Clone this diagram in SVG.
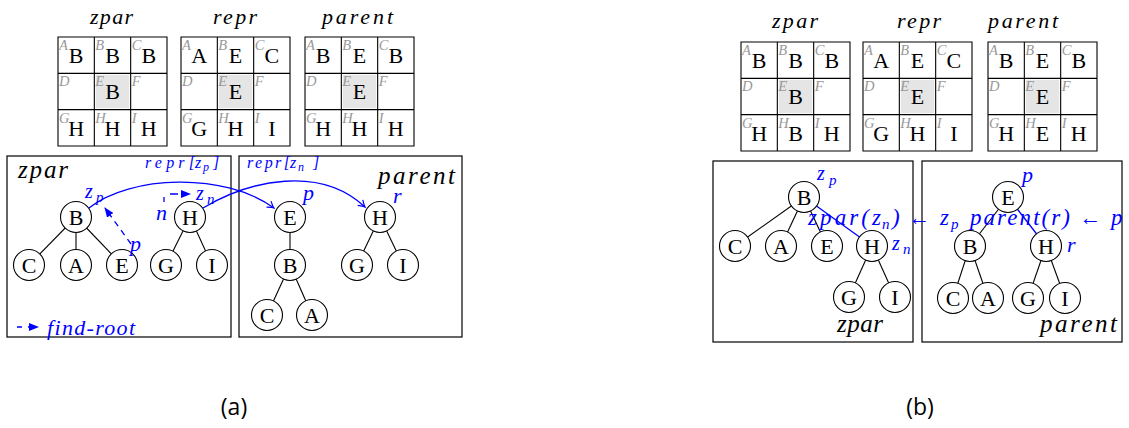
<svg xmlns="http://www.w3.org/2000/svg" xmlns:xlink="http://www.w3.org/1999/xlink" width="1129" height="428" viewBox="0 0 1129 428">
<style>
.bg{fill:#fff}
.gl{stroke:#000;stroke-width:1.1;fill:none}
.sh{fill:#e5e5e5}
.lbl{font-family:"Liberation Serif","DejaVu Serif",serif;font-style:italic;font-size:14.5px;fill:#999}
.big{font-family:"Liberation Serif","DejaVu Serif",serif;font-size:22px;text-anchor:middle;fill:#000}
.mi{font-family:"Liberation Serif","DejaVu Serif",serif;font-style:italic;fill:#000}
.bl{fill:#0000ff}
.box{fill:none;stroke:#000;stroke-width:1.2}
.nd circle{fill:#fff;stroke:#000;stroke-width:1.1}
.nd text{font-family:"Liberation Serif","DejaVu Serif",serif;font-size:22px;text-anchor:middle}
.e{stroke:#000;stroke-width:1.1}
.eb{stroke:#0000ff;stroke-width:1.3}
.arc{stroke:#0000ff;stroke-width:1.3;fill:none;marker-end:url(#to)}
.da{stroke:#0000ff;stroke-width:1.3;fill:none;stroke-dasharray:6 5;marker-end:url(#tri)}
.cap{font-family:"Open Sans","Noto Sans",sans-serif;font-size:23px;text-anchor:middle;fill:#000}
</style>
<defs>
<marker id="to" markerUnits="userSpaceOnUse" viewBox="-8 -5 9 10" markerWidth="9" markerHeight="10" refX="0" refY="0" orient="auto">
<path d="M-6.5,-3.8 Q-2,-0.6 0,0 Q-2,0.6 -6.5,3.8" fill="none" stroke="#0000ff" stroke-width="1.2"/>
</marker>
<marker id="tri" markerUnits="userSpaceOnUse" viewBox="0 0 10 8" markerWidth="10" markerHeight="8" refX="9" refY="4" orient="auto">
<path d="M0,0 L10,4 L0,8 z" fill="#0000ff"/>
</marker>
<g id="frame">
<rect class="sh" x="37.8" y="37.8" width="33.4" height="33.4"/>
<path class="gl" d="M0,0 H109 V109 H0 Z M36.33,0 V109 M72.67,0 V109 M0,36.33 H109 M0,72.67 H109"/>
<text class="lbl" x="1" y="13">A</text><text class="lbl" x="37.3" y="13">B</text><text class="lbl" x="73.7" y="13">C</text>
<text class="lbl" x="1" y="49.3">D</text><text class="lbl" x="37.3" y="49.3">E</text><text class="lbl" x="73.7" y="49.3">F</text>
<text class="lbl" x="1" y="85.7">G</text><text class="lbl" x="37.3" y="85.7">H</text><text class="lbl" x="73.7" y="85.7">I</text>
</g>
</defs>
<rect class="bg" x="0" y="0" width="1129" height="428"/>

<!-- (a) arrays -->
<g id="a-arr-zpar" transform="translate(58,37)">
<use xlink:href="#frame"/>
<text class="big" x="18.2" y="26">B</text><text class="big" x="54.5" y="26">B</text><text class="big" x="90.8" y="26">B</text>
<text class="big" x="54.5" y="62.3">B</text>
<text class="big" x="18.2" y="98.7">H</text><text class="big" x="54.5" y="98.7">H</text><text class="big" x="90.8" y="98.7">H</text>
</g>
<g id="a-arr-repr" transform="translate(181,37)">
<use xlink:href="#frame"/>
<text class="big" x="18.2" y="26">A</text><text class="big" x="54.5" y="26">E</text><text class="big" x="90.8" y="26">C</text>
<text class="big" x="54.5" y="62.3">E</text>
<text class="big" x="18.2" y="98.7">G</text><text class="big" x="54.5" y="98.7">H</text><text class="big" x="90.8" y="98.7">I</text>
</g>
<g id="a-arr-parent" transform="translate(305,37)">
<use xlink:href="#frame"/>
<text class="big" x="18.2" y="26">B</text><text class="big" x="54.5" y="26">E</text><text class="big" x="90.8" y="26">B</text>
<text class="big" x="54.5" y="62.3">E</text>
<text class="big" x="18.2" y="98.7">H</text><text class="big" x="54.5" y="98.7">H</text><text class="big" x="90.8" y="98.7">H</text>
</g>
<text class="mi" font-size="22" x="90" y="24" textLength="43" lengthAdjust="spacing">zpar</text>
<text class="mi" font-size="22" x="213" y="24" textLength="44" lengthAdjust="spacing">repr</text>
<text class="mi" font-size="22" x="322" y="24" textLength="71" lengthAdjust="spacing">parent</text>

<!-- (b) arrays -->
<g id="b-arr-zpar" transform="translate(741,42)">
<use xlink:href="#frame"/>
<text class="big" x="18.2" y="26">B</text><text class="big" x="54.5" y="26">B</text><text class="big" x="90.8" y="26">B</text>
<text class="big" x="54.5" y="62.3">B</text>
<text class="big" x="18.2" y="98.7">H</text><text class="big" x="54.5" y="98.7">B</text><text class="big" x="90.8" y="98.7">H</text>
</g>
<g id="b-arr-repr" transform="translate(863,42)">
<use xlink:href="#frame"/>
<text class="big" x="18.2" y="26">A</text><text class="big" x="54.5" y="26">E</text><text class="big" x="90.8" y="26">C</text>
<text class="big" x="54.5" y="62.3">E</text>
<text class="big" x="18.2" y="98.7">G</text><text class="big" x="54.5" y="98.7">H</text><text class="big" x="90.8" y="98.7">I</text>
</g>
<g id="b-arr-parent" transform="translate(988,42)">
<use xlink:href="#frame"/>
<text class="big" x="18.2" y="26">B</text><text class="big" x="54.5" y="26">E</text><text class="big" x="90.8" y="26">B</text>
<text class="big" x="54.5" y="62.3">E</text>
<text class="big" x="18.2" y="98.7">H</text><text class="big" x="54.5" y="98.7">E</text><text class="big" x="90.8" y="98.7">H</text>
</g>
<text class="mi" font-size="22" x="772" y="28" textLength="46" lengthAdjust="spacing">zpar</text>
<text class="mi" font-size="22" x="897" y="28" textLength="44" lengthAdjust="spacing">repr</text>
<text class="mi" font-size="22" x="988" y="28" textLength="70" lengthAdjust="spacing">parent</text>

<!-- boxes -->
<rect class="box" x="7" y="156" width="224" height="181"/>
<rect class="box" x="239" y="156" width="223" height="181"/>
<rect class="box" x="713" y="161" width="200" height="181"/>
<rect class="box" x="922" y="161" width="200" height="181"/>

<!-- connectors -->
<g id="connectors">
<line class="e" x1="76" y1="217" x2="29" y2="265"/>
<line class="e" x1="76" y1="217" x2="76" y2="265"/>
<line class="e" x1="76" y1="217" x2="122" y2="265"/>
<line class="e" x1="190" y1="217" x2="166" y2="265"/>
<line class="e" x1="190" y1="217" x2="212" y2="265"/>
<line class="e" x1="290" y1="217" x2="290" y2="265"/>
<line class="e" x1="290" y1="265" x2="267" y2="315"/>
<line class="e" x1="290" y1="265" x2="312" y2="315"/>
<line class="e" x1="380" y1="217" x2="357" y2="265"/>
<line class="e" x1="380" y1="217" x2="403" y2="265"/>
<path class="arc" d="M89,208 C130,175 225,172 274,208"/>
<path class="arc" d="M203,208 C250,180 320,165 365,207"/>
<path class="da" d="M131,244 L105,208"/>
<path class="da" style="stroke-dasharray:5 9 8 40" d="M164,202 L164,194 L190,194"/>
<path class="da" style="stroke-dasharray:5 6" d="M17,327 L38,327"/>
<line class="e" x1="804" y1="197" x2="735" y2="246"/>
<line class="e" x1="804" y1="197" x2="781" y2="246"/>
<line class="e" x1="804" y1="197" x2="827" y2="246"/>
<line class="eb" x1="804" y1="197" x2="872" y2="246"/>
<line class="e" x1="872" y1="246" x2="849" y2="297"/>
<line class="e" x1="872" y1="246" x2="895" y2="297"/>
<line class="e" x1="1008" y1="197" x2="970" y2="246"/>
<line class="eb" x1="1008" y1="197" x2="1046" y2="246"/>
<line class="e" x1="970" y1="246" x2="953" y2="298"/>
<line class="e" x1="970" y1="246" x2="988" y2="298"/>
<line class="e" x1="1046" y1="246" x2="1028" y2="298"/>
<line class="e" x1="1046" y1="246" x2="1065" y2="298"/>
</g>

<!-- (a) zpar tree nodes -->
<g id="a-z-B" class="nd"><circle cx="76" cy="217" r="15.5"/><text x="76" y="224.5">B</text></g>
<g id="a-z-C" class="nd"><circle cx="29" cy="265" r="15.5"/><text x="29" y="272.5">C</text></g>
<g id="a-z-A" class="nd"><circle cx="76" cy="265" r="15.5"/><text x="76" y="272.5">A</text></g>
<g id="a-z-E" class="nd"><circle cx="122" cy="265" r="15.5"/><text x="122" y="272.5">E</text></g>
<g id="a-z-H" class="nd"><circle cx="190" cy="217" r="15.5"/><text x="190" y="224.5">H</text></g>
<g id="a-z-G" class="nd"><circle cx="166" cy="265" r="15.5"/><text x="166" y="272.5">G</text></g>
<g id="a-z-I" class="nd"><circle cx="212" cy="265" r="15.5"/><text x="212" y="272.5">I</text></g>
<!-- (a) parent tree nodes -->
<g id="a-p-E" class="nd"><circle cx="290" cy="217" r="15.5"/><text x="290" y="224.5">E</text></g>
<g id="a-p-B" class="nd"><circle cx="290" cy="265" r="15.5"/><text x="290" y="272.5">B</text></g>
<g id="a-p-C" class="nd"><circle cx="267" cy="315" r="15.5"/><text x="267" y="322.5">C</text></g>
<g id="a-p-A" class="nd"><circle cx="312" cy="315" r="15.5"/><text x="312" y="322.5">A</text></g>
<g id="a-p-H" class="nd"><circle cx="380" cy="217" r="15.5"/><text x="380" y="224.5">H</text></g>
<g id="a-p-G" class="nd"><circle cx="357" cy="265" r="15.5"/><text x="357" y="272.5">G</text></g>
<g id="a-p-I" class="nd"><circle cx="403" cy="265" r="15.5"/><text x="403" y="272.5">I</text></g>
<!-- (b) zpar tree nodes -->
<g id="b-z-B" class="nd"><circle cx="804" cy="197" r="15.5"/><text x="804" y="204.5">B</text></g>
<g id="b-z-C" class="nd"><circle cx="735" cy="246" r="15.5"/><text x="735" y="253.5">C</text></g>
<g id="b-z-A" class="nd"><circle cx="781" cy="246" r="15.5"/><text x="781" y="253.5">A</text></g>
<g id="b-z-E" class="nd"><circle cx="827" cy="246" r="15.5"/><text x="827" y="253.5">E</text></g>
<g id="b-z-H" class="nd"><circle cx="872" cy="246" r="15.5"/><text x="872" y="253.5">H</text></g>
<g id="b-z-G" class="nd"><circle cx="849" cy="297" r="15.5"/><text x="849" y="304.5">G</text></g>
<g id="b-z-I" class="nd"><circle cx="895" cy="297" r="15.5"/><text x="895" y="304.5">I</text></g>
<!-- (b) parent tree nodes -->
<g id="b-p-E" class="nd"><circle cx="1008" cy="197" r="15.5"/><text x="1008" y="204.5">E</text></g>
<g id="b-p-B" class="nd"><circle cx="970" cy="246" r="15.5"/><text x="970" y="253.5">B</text></g>
<g id="b-p-H" class="nd"><circle cx="1046" cy="246" r="15.5"/><text x="1046" y="253.5">H</text></g>
<g id="b-p-C" class="nd"><circle cx="953" cy="298" r="15.5"/><text x="953" y="305.5">C</text></g>
<g id="b-p-A" class="nd"><circle cx="988" cy="298" r="15.5"/><text x="988" y="305.5">A</text></g>
<g id="b-p-G" class="nd"><circle cx="1028" cy="298" r="15.5"/><text x="1028" y="305.5">G</text></g>
<g id="b-p-I" class="nd"><circle cx="1065" cy="298" r="15.5"/><text x="1065" y="305.5">I</text></g>

<!-- (a) labels -->
<text class="mi" font-size="25" x="18" y="178" textLength="50" lengthAdjust="spacing">zpar</text>
<text class="mi" font-size="25" x="378" y="184" textLength="77" lengthAdjust="spacing">parent</text>
<text class="mi bl" font-size="16" x="145" y="168" textLength="50" lengthAdjust="spacing">repr[</text>
<text class="mi bl" font-size="16" x="195" y="168">z</text>
<text class="mi bl" font-size="12" x="203" y="171">p</text>
<text class="mi bl" font-size="16" x="213" y="168" font-style="normal">]</text>
<text class="mi bl" font-size="16" x="247" y="168" textLength="43" lengthAdjust="spacing">repr[</text>
<text class="mi bl" font-size="16" x="290" y="168">z</text>
<text class="mi bl" font-size="12" x="298" y="171">n</text>
<text class="mi bl" font-size="16" x="313" y="168" font-style="normal">]</text>
<text class="mi bl" font-size="20" x="85" y="198">z</text>
<text class="mi bl" font-size="15" x="96" y="202">p</text>
<text class="mi bl" font-size="20" x="196" y="200">z</text>
<text class="mi bl" font-size="15" x="207" y="204">n</text>
<text class="mi bl" font-size="22" x="156" y="220">n</text>
<text class="mi bl" font-size="22" x="130" y="251">p</text>
<text class="mi bl" font-size="22" x="303" y="200">p</text>
<text class="mi bl" font-size="22" x="393" y="203">r</text>
<text class="mi bl" font-size="22" x="47" y="335" textLength="88" lengthAdjust="spacing">find-root</text>

<!-- (b) labels -->
<text class="mi" font-size="25" x="837" y="332" textLength="46" lengthAdjust="spacing">zpar</text>
<text class="mi" font-size="25" x="1040" y="332" textLength="77" lengthAdjust="spacing">parent</text>
<text class="mi bl" font-size="20" x="817" y="180">z</text>
<text class="mi bl" font-size="15" x="829" y="185">p</text>
<text class="mi bl" font-size="20" x="892" y="250">z</text>
<text class="mi bl" font-size="15" x="903" y="254">n</text>
<text class="mi bl" font-size="22" x="1022" y="182">p</text>
<text class="mi bl" font-size="22" x="1067" y="252">r</text>
<text class="mi bl" font-size="23" x="808" y="225" textLength="73" lengthAdjust="spacing">zpar(z</text>
<text class="mi bl" font-size="15" x="882" y="229">n</text>
<text class="mi bl" font-size="23" x="892" y="225">)</text>
<text class="bl" font-family="Liberation Serif,DejaVu Serif,serif" font-size="23" x="908" y="225" textLength="22" lengthAdjust="spacingAndGlyphs">←</text>
<text class="mi bl" font-size="23" x="940" y="225">z</text>
<text class="mi bl" font-size="15" x="951" y="229">p</text>
<text class="mi bl" font-size="23" x="970" y="225" textLength="100" lengthAdjust="spacing">parent(r)</text>
<text class="bl" font-family="Liberation Serif,DejaVu Serif,serif" font-size="23" x="1079" y="225" textLength="22" lengthAdjust="spacingAndGlyphs">←</text>
<text class="mi bl" font-size="23" x="1111" y="225">p</text>

<!-- captions -->
<text class="cap" x="234" y="415">(a)</text>
<text class="cap" x="920" y="415">(b)</text>
</svg>
